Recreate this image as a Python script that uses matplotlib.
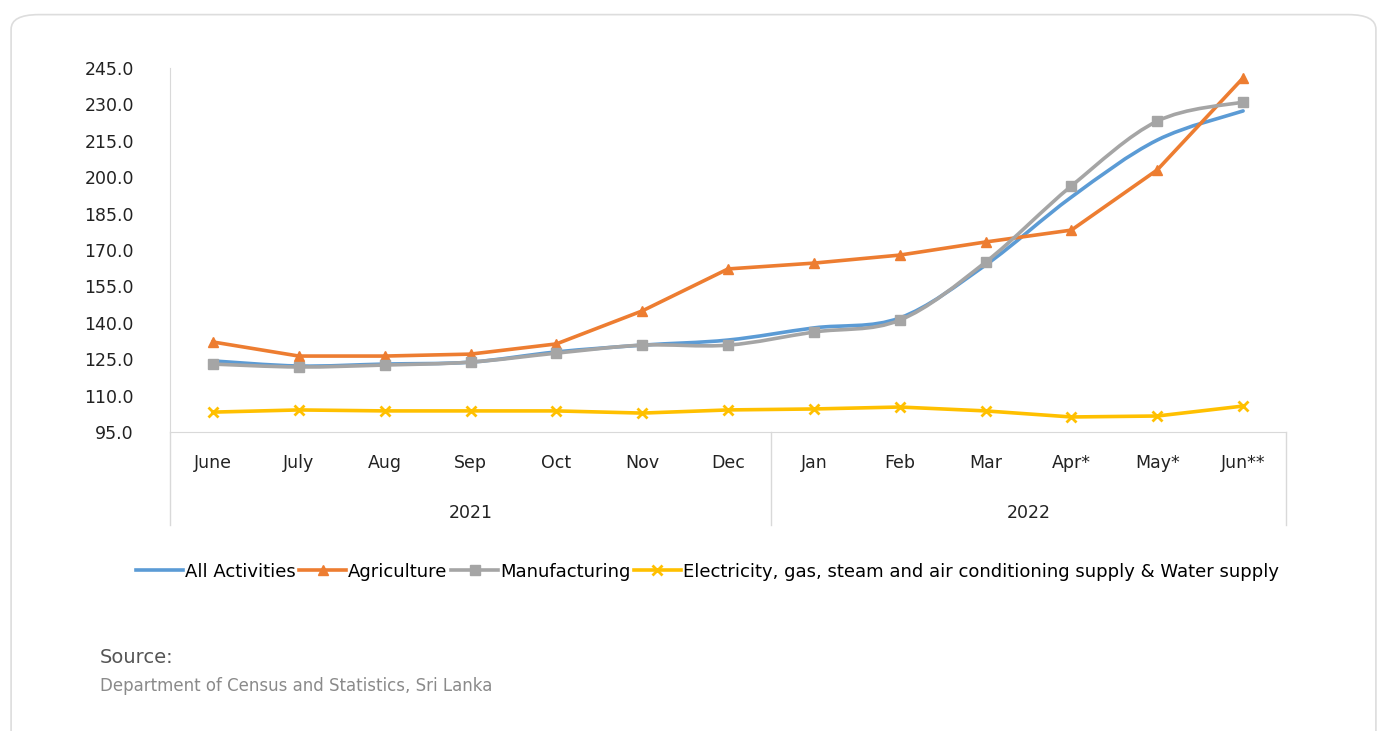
import matplotlib.pyplot as plt
from matplotlib.path import Path
from matplotlib.patches import PathPatch, FancyBboxPatch
from matplotlib.lines import Line2D

plt.rcParams['font.family'] = ['DejaVu Sans']

months = ['June', 'July', 'Aug', 'Sep', 'Oct', 'Nov', 'Dec',
          'Jan', 'Feb', 'Mar', 'Apr*', 'May*', 'Jun**']
years = ['2021', '2022']
year_counts = [7, 6]

all_activities = [124.3, 122.2, 123.0, 123.8, 128.0, 130.8, 132.9,
                  137.9, 142.0, 163.8, 191.8, 215.3, 227.3]
agriculture = [132.1, 126.3, 126.3, 127.1, 131.3, 144.9, 162.2,
               164.6, 167.9, 173.3, 178.2, 203.0, 240.9]
manufacturing = [123.0, 121.8, 122.6, 123.8, 127.5, 130.8, 130.8,
                 136.2, 141.1, 165.0, 196.4, 223.1, 231.0]
electricity = [103.2, 104.1, 103.7, 103.7, 103.7, 102.8, 104.1,
               104.5, 105.3, 103.7, 101.2, 101.6, 105.7]

# name, values, colour, marker, smoothed line
series = [
    ('All Activities', all_activities, '#5B9BD5', None, True),
    ('Agriculture', agriculture, '#ED7D31', '^', False),
    ('Manufacturing', manufacturing, '#A5A5A5', 's', True),
    ('Electricity, gas, steam and air conditioning supply & Water supply',
     electricity, '#FFC000', 'x', False),
]


def smooth_path(xs, ys):
    # excel style smoothed line: cubic bezier through the points
    verts = [(xs[0], ys[0])]
    codes = [Path.MOVETO]
    n = len(xs)
    for i in range(n - 1):
        x0, y0 = (xs[i - 1], ys[i - 1]) if i > 0 else (xs[i], ys[i])
        x3, y3 = (xs[i + 2], ys[i + 2]) if i + 2 < n else (xs[i + 1], ys[i + 1])
        c1 = (xs[i] + (xs[i + 1] - x0) / 6, ys[i] + (ys[i + 1] - y0) / 6)
        c2 = (xs[i + 1] - (x3 - xs[i]) / 6, ys[i + 1] - (y3 - ys[i]) / 6)
        verts += [c1, c2, (xs[i + 1], ys[i + 1])]
        codes += [Path.CURVE4] * 3
    return Path(verts, codes)


fig = plt.figure(figsize=(13.87, 7.31), dpi=100)
frame = FancyBboxPatch((0.008, -0.02), 0.984, 1.0, transform=fig.transFigure,
                       boxstyle='round,pad=0,rounding_size=0.02',
                       facecolor='white', edgecolor='#dddddd', lw=1.2, zorder=-10)
fig.patches.append(frame)

ax = fig.add_axes([0.1226, 0.409, 0.8046, 0.498])
ax.set_facecolor('none')
x = list(range(len(months)))

handles = []
for name, vals, color, marker, smooth in series:
    mew = 2 if marker == 'x' else 1
    if smooth:
        ax.add_patch(PathPatch(smooth_path(x, vals), fill=False, edgecolor=color,
                               lw=2.6, capstyle='round', joinstyle='round', zorder=3))
        if marker:
            ax.plot(x, vals, ls='none', marker=marker, color=color, ms=7, mew=mew, zorder=4)
    else:
        ax.plot(x, vals, color=color, lw=2.6, marker=marker, ms=7, mew=mew,
                solid_joinstyle='round', zorder=3)
    handles.append(Line2D([], [], color=color, lw=2.6, marker=marker, ms=7, mew=mew))

ax.set_xlim(-0.5, len(months) - 0.5)
ax.set_ylim(95, 245)
ax.set_yticks([95 + 15 * i for i in range(11)])
ax.set_yticklabels([f'{95 + 15 * i:.1f}' for i in range(11)], fontsize=12.5, color='#222222')
ax.tick_params(axis='y', length=0, pad=26)
ax.set_xticks([])
for s in ['top', 'right']:
    ax.spines[s].set_visible(False)
ax.spines['left'].set_color('#d9d9d9')
ax.spines['bottom'].set_color('#d9d9d9')

# two-level category axis
trans = ax.get_xaxis_transform()
for i, m in enumerate(months):
    ax.text(i, -0.085, m, transform=trans, ha='center', va='center', fontsize=12.5, color='#222222')
start = 0
bounds = [-0.5]
for yr, cnt in zip(years, year_counts):
    ax.text(start + (cnt - 1) / 2, -0.222, yr, transform=trans, ha='center', va='center',
            fontsize=12.5, color='#222222')
    start += cnt
    bounds.append(start - 0.5)
for b in bounds:
    ax.plot([b, b], [0, -0.255], transform=trans, color='#d9d9d9', lw=1, clip_on=False)

fig.legend(handles, [s[0] for s in series], loc='center', bbox_to_anchor=(0.51, 0.218),
           ncol=4, frameon=False, fontsize=13, handlelength=2.6, handletextpad=0.1,
           columnspacing=0.2)

fig.text(0.072, 0.101, 'Source:', fontsize=14, color='#555555', va='center')
fig.text(0.072, 0.061, 'Department of Census and Statistics, Sri Lanka', fontsize=12,
         color='#8a8a8a', va='center')

fig.savefig('out.png', dpi=100)
